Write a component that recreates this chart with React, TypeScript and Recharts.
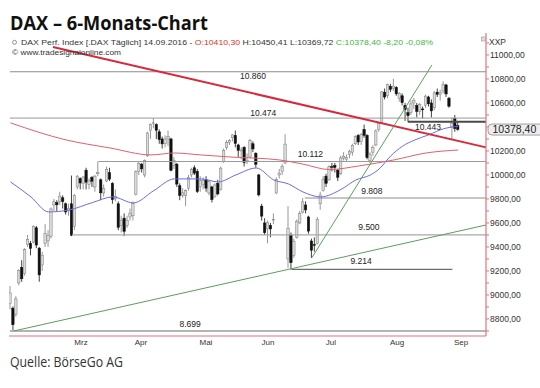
import React from 'react';
import { ComposedChart, Bar, Line, XAxis, YAxis, ReferenceLine, ReferenceDot } from 'recharts';

// daily candles, 10.02.2016 - 14.09.2016: [open, high, low, close]
const ohlc: [number, number, number, number][] = [
  // Feb
  [8930, 9075, 8880, 9017], [8890, 8905, 8699, 8752], [8840, 8990, 8820, 8967], [9100, 9215, 9080, 9206],
  [9230, 9290, 9110, 9135], [9180, 9390, 9160, 9378], [9420, 9500, 9400, 9463], [9430, 9450, 9330, 9388],
  [9440, 9580, 9430, 9573], [9560, 9575, 9390, 9416], [9390, 9400, 9110, 9167], [9250, 9360, 9200, 9331],
  [9430, 9590, 9400, 9513], [9450, 9540, 9400, 9495],
  // Mrz
  [9490, 9730, 9470, 9717], [9750, 9800, 9700, 9776], [9770, 9790, 9700, 9751], [9780, 9860, 9750, 9824],
  [9810, 9830, 9720, 9778], [9760, 9770, 9670, 9692], [9700, 9760, 9660, 9723], [9760, 9995, 9490, 9498],
  [9570, 9840, 9540, 9831], [9900, 10000, 9880, 9990], [9970, 9980, 9880, 9933], [9930, 9990, 9880, 9983],
  [10040, 10060, 9880, 9940], [9920, 9970, 9880, 9950], [9980, 9990, 9900, 9948], [9900, 10000, 9860, 9990],
  [10010, 10112, 9990, 10022], [9960, 9970, 9790, 9851], [9850, 9920, 9820, 9887], [9950, 10070, 9940, 10046],
  [10020, 10060, 9950, 9965],
  // Apr
  [9930, 9940, 9760, 9794], [9800, 9880, 9780, 9822], [9760, 9780, 9540, 9564], [9580, 9660, 9520, 9624],
  [9640, 9680, 9490, 9530], [9580, 9660, 9560, 9622], [9650, 9720, 9620, 9682], [9660, 9780, 9620, 9761],
  [9840, 10040, 9830, 10026], [10030, 10110, 10000, 10094], [10090, 10100, 10020, 10051], [10000, 10130, 9980, 10120],
  [10160, 10360, 10150, 10350], [10370, 10430, 10300, 10421], [10430, 10474, 10390, 10435], [10420, 10430, 10300, 10373],
  [10360, 10380, 10260, 10294], [10300, 10320, 10220, 10259], [10260, 10330, 10230, 10300], [10300, 10370, 10240, 10321],
  [10300, 10310, 10030, 10039],
  // Mai
  [10080, 10150, 10050, 10123], [10090, 10100, 9900, 9924], [9910, 9930, 9790, 9829], [9830, 9890, 9810, 9851],
  [9830, 9880, 9740, 9870], [9890, 10000, 9870, 9980], [10000, 10060, 9980, 10045], [10060, 10080, 10000, 10015],
  [10030, 10050, 9850, 9862], [9900, 9990, 9860, 9952], [9920, 9980, 9880, 9953], [9960, 9990, 9860, 9890],
  [9850, 9960, 9830, 9943], [9900, 9910, 9770, 9795], [9820, 9930, 9810, 9916], [9930, 9960, 9830, 9842],
  [9880, 10070, 9870, 10057], [10110, 10220, 10100, 10205], [10230, 10290, 10210, 10272], [10270, 10300, 10250, 10287],
  [10310, 10340, 10280, 10334], [10330, 10370, 10230, 10263],
  // Jun
  [10250, 10260, 10150, 10205], [10200, 10230, 10130, 10208], [10230, 10240, 10070, 10103], [10110, 10180, 10090, 10121],
  [10150, 10300, 10140, 10288], [10260, 10280, 10190, 10217], [10180, 10190, 10060, 10089], [10000, 10010, 9820, 9834],
  [9740, 9760, 9620, 9657], [9600, 9640, 9500, 9519], [9550, 9620, 9430, 9606], [9580, 9600, 9480, 9550],
  [9630, 9680, 9590, 9631], [9850, 9980, 9840, 9962], [10000, 10050, 9970, 10015], [10030, 10090, 10000, 10071],
  [10100, 10340, 10090, 10257], [9300, 9740, 9226, 9557], [9500, 9520, 9214, 9269], [9330, 9470, 9310, 9448],
  [9480, 9630, 9470, 9612], [9600, 9700, 9590, 9680],
  // Jul
  [9690, 9808, 9680, 9776], [9750, 9780, 9680, 9709], [9650, 9660, 9510, 9532], [9450, 9470, 9308, 9373],
  [9420, 9480, 9360, 9418], [9430, 9650, 9420, 9629], [9760, 9860, 9710, 9833], [9870, 9990, 9860, 9964],
  [9990, 10010, 9900, 9930], [9960, 10080, 9950, 10068], [10070, 10100, 10030, 10066], [10080, 10100, 10020, 10063],
  [10040, 10050, 9950, 9981], [10010, 10160, 10000, 10142], [10140, 10190, 10120, 10156], [10130, 10170, 10110, 10147],
  [10170, 10210, 10140, 10198], [10190, 10260, 10160, 10247], [10260, 10330, 10250, 10319], [10330, 10340, 10250, 10275],
  [10280, 10350, 10250, 10337],
  // Aug
  [10380, 10420, 10310, 10330], [10330, 10340, 10130, 10144], [10120, 10190, 10100, 10170], [10190, 10250, 10160, 10228],
  [10250, 10380, 10240, 10367], [10380, 10440, 10360, 10432], [10440, 10700, 10430, 10692], [10690, 10720, 10630, 10650],
  [10660, 10760, 10640, 10753], [10740, 10760, 10690, 10713], [10720, 10802, 10700, 10740], [10730, 10740, 10660, 10676],
  [10640, 10690, 10610, 10679], [10660, 10680, 10580, 10603], [10580, 10600, 10450, 10544], [10520, 10560, 10443, 10494],
  [10520, 10620, 10500, 10592], [10600, 10640, 10550, 10623], [10580, 10600, 10480, 10529], [10530, 10600, 10500, 10587],
  [10550, 10570, 10470, 10544], [10580, 10670, 10560, 10657], [10650, 10660, 10570, 10593],
  // Sep
  [10600, 10630, 10480, 10534], [10560, 10700, 10540, 10684], [10690, 10720, 10650, 10672], [10670, 10710, 10620, 10688],
  [10700, 10780, 10680, 10752], [10750, 10760, 10650, 10675], [10640, 10650, 10560, 10573], [10400, 10480, 10290, 10432],
  [10470, 10500, 10360, 10386], [10410.3, 10450.41, 10369.72, 10378.4],
];

// moving averages: [day index, value]
const blueMa: [number, number][] = [
  [0, 9942], [7, 9817], [13, 9692], [20, 9708], [28, 9770], [35, 9817], [42, 9767], [49, 9870],
  [56, 9967], [65, 9967], [71, 9942], [77, 10000], [84, 10058], [90, 9958], [95, 9925], [100, 9858],
  [106, 9817], [113, 9880], [118, 9958], [123, 10000], [126, 10050], [130, 10160], [134, 10240],
  [138, 10290], [143, 10335], [148, 10385], [153, 10405],
];
const redMa: [number, number][] = [
  [0, 10434], [19, 10292], [34, 10225], [48, 10167], [56, 10183], [65, 10167], [75, 10150],
  [92, 10125], [100, 10090], [109, 10045], [119, 10075], [131, 10125], [142, 10183], [153, 10208],
];

// horizontal levels: value, first day, label, label day, label side, label gap
const levels = [
  { v: 10860, from: -0.2, label: '10.860', at: 82.9, side: 'bottom', gap: 1, color: '#8c8c8c', w: 1 },
  { v: 10474, from: -0.2, label: '10.474', at: 86.4, side: 'top', gap: 2, color: '#9a9a9a', w: 1 },
  { v: 10443, from: 135.8, label: '10.443', at: 142.7, side: 'bottom', gap: 2, color: '#4a4a4a', w: 2 },
  { v: 10112, from: 30, label: '10.112', at: 102.5, side: 'top', gap: 5, color: '#9a9a9a', w: 1 },
  { v: 9808, from: 100.6, label: '9.808', at: 123.5, side: 'top', gap: 4, color: '#8c8c8c', w: 1 },
  { v: 9500, from: 21, label: '9.500', at: 122.5, side: 'top', gap: 5, color: '#a8a8a8', w: 1.2 },
  { v: 9214, from: 96, to: 151, label: '9.214', at: 119.8, side: 'top', gap: 5, color: '#6e6e6e', w: 1.2 },
  { v: 8699, from: -0.2, label: '8.699', at: 61.4, side: 'top', gap: 4, color: '#b4b4b4', w: 2 },
];

// trend lines: [[day, value], [day, value]]
const trendLines = [
  { pts: [[14.5, 11066], [162.5, 10230]], color: '#d8283c', w: 2 },
  { pts: [[1, 8699], [162.5, 9583]], color: '#5c9e5c', w: 1 },
  { pts: [[103, 9310], [144, 10916]], color: '#5c9e5c', w: 1 },
];

const monthStarts = [14, 35, 56, 78, 100, 121, 144];
const monthLabelDays = [24.1, 44.6, 66.8, 88, 109.5, 132.1, 154];
const monthLabels = ['Mrz', 'Apr', 'Mai', 'Jun', 'Jul', 'Aug', 'Sep'];
const yTicks = [8700, 8800, 8900, 9000, 9100, 9200, 9300, 9400, 9500, 9600, 9700, 9800, 9900,
  10000, 10100, 10200, 10300, 10400, 10500, 10600, 10700, 10800, 10900, 11000, 11100];

const RED = '#e5717f';
const FONT = '"Liberation Sans", Arial, sans-serif';
const X_DOMAIN = [-0.5, 162.5];
const Y_DOMAIN = [8658, 11183];

const blueMap = new Map(blueMa);
const redMap = new Map(redMa);
const rows = ohlc.map(([o, h, l, c], i) => ({
  i, o, h, l, c, range: [l, h],
  ma1: blueMap.has(i) ? blueMap.get(i) : null,
  ma2: redMap.has(i) ? redMap.get(i) : null,
}));
const last = ohlc[ohlc.length - 1][3];

const fmt = (v: number) => v.toFixed(2).replace('.', ',');
// the last-price box hides the axis label right under it
const yLabel = (v: number) => (v % 200 === 0 && Math.abs(v - last) > 60 ? fmt(v) : '');

const Candle = (props: any) => {
  const { x, y, width, height, payload } = props;
  if (x == null || payload == null) return null;
  const top = Math.min(y, y + height);
  const bot = Math.max(y, y + height);
  const span = payload.h - payload.l || 1;
  const py = (v: number) => top + ((payload.h - v) / span) * (bot - top);
  const cx = x + width / 2;
  const up = payload.c >= payload.o;
  const bt = py(Math.max(payload.o, payload.c));
  const bb = py(Math.min(payload.o, payload.c));
  const col = up ? '#7c7c7c' : '#111';
  const bw = 2.4;
  return (
    <g>
      <line x1={cx} x2={cx} y1={top} y2={bot} stroke={col} strokeWidth={0.8} />
      <rect x={cx - bw / 2} y={bt} width={bw} height={Math.max(bb - bt, 0.8)}
        fill={up ? '#dadada' : '#111'} stroke={col} strokeWidth={0.5} />
    </g>
  );
};

const LastBox = (p: any) => {
  const vb = p.viewBox;
  if (!vb) return null;
  const cy = vb.y + vb.height / 2;
  return (
    <g>
      <rect x={488} y={cy - 5.5} width={70} height={11} rx={4} fill="#eeeeee" stroke="#8a8a8a" strokeWidth={0.8} />
      <text x={492.5} y={cy + 3.6} fontSize={10.5} fontFamily={FONT} fill="#222">{fmt(last)}</text>
    </g>
  );
};

export default function App() {
  return (
    <div style={{ position: 'absolute', left: 0, top: 0, width: 540, height: 388, background: '#fff', overflow: 'hidden' }}>
      <div style={{ position: 'absolute', left: 0, top: 0 }}>
        <ComposedChart width={540} height={388} data={rows} margin={{ top: 33, right: 0, left: 9, bottom: 36 }}>
          <XAxis dataKey="i" type="number" domain={X_DOMAIN} allowDataOverflow ticks={monthStarts}
            tick={false} tickLine={{ stroke: '#999' }} tickSize={3} axisLine={{ stroke: RED, strokeWidth: 1.2 }} height={2} />
          <XAxis xAxisId="lbl" dataKey="i" type="number" domain={X_DOMAIN} allowDataOverflow ticks={monthLabelDays}
            interval={0} tickFormatter={(v: number) => monthLabels[monthLabelDays.indexOf(v)] ?? ''}
            axisLine={false} tickLine={false} tickSize={0} tickMargin={1} height={14}
            tick={{ fontSize: 8, fill: '#333', fontFamily: FONT }} />
          <YAxis orientation="right" type="number" domain={Y_DOMAIN} allowDataOverflow ticks={yTicks} interval={0}
            tickFormatter={yLabel} width={54}
            axisLine={{ stroke: RED, strokeWidth: 1.2 }} tickLine={{ stroke: RED }} tickSize={3} tickMargin={1}
            tick={{ fontSize: 8.5, fill: '#333', fontFamily: FONT }} />

          {levels.map((lv) => (
            <ReferenceLine key={lv.label} segment={[{ x: lv.from, y: lv.v }, { x: lv.to ?? X_DOMAIN[1], y: lv.v }]}
              stroke={lv.color} strokeWidth={lv.w} ifOverflow="visible" />
          ))}
          {levels.map((lv) => (
            <ReferenceDot key={'l' + lv.label} x={lv.at} y={lv.v} r={0} fill="none" stroke="none" ifOverflow="visible"
              label={{ value: lv.label, position: lv.side as any, offset: lv.gap, fontSize: 8.5, fill: '#222', fontFamily: FONT }} />
          ))}

          <Line dataKey="ma2" type="monotone" stroke="#e0606e" strokeWidth={1} dot={false} connectNulls isAnimationActive={false} />
          <Line dataKey="ma1" type="monotone" stroke="#6b6be6" strokeWidth={1} dot={false} connectNulls isAnimationActive={false} />
          <Bar dataKey="range" barSize={2} shape={<Candle />} isAnimationActive={false} />

          {trendLines.map((t, k) => (
            <ReferenceLine key={'t' + k} segment={[{ x: t.pts[0][0], y: t.pts[0][1] }, { x: t.pts[1][0], y: t.pts[1][1] }]}
              stroke={t.color} strokeWidth={t.w} ifOverflow="visible" />
          ))}
          <ReferenceDot x={X_DOMAIN[1]} y={last} r={0} fill="none" stroke="none" ifOverflow="visible" label={<LastBox />} />
        </ComposedChart>
      </div>
      <svg width={540} height={388} style={{ position: 'absolute', left: 0, top: 0, pointerEvents: 'none' }}>
        <text x={10} y={30} fontFamily='"Open Sans", "Noto Sans", sans-serif' fontWeight={700} fontSize={20}
          textLength={198} lengthAdjust="spacingAndGlyphs" fill="#111">DAX – 6-Monats-Chart</text>
        <circle cx={14.5} cy={42.3} r={2} fill="none" stroke="#777" strokeWidth={0.8} />
        <text x={21} y={45} fontFamily={FONT} fontSize={8} textLength={412} lengthAdjust="spacingAndGlyphs" fill="#333">
          DAX Perf. Index [.DAX  Täglich] 14.09.2016 - <tspan fill="#e0302a">O:10410,30</tspan> H:10450,41 L:10369,72{' '}
          <tspan fill="#3cb83c">C:10378,40 -8,20 -0,08%</tspan>
        </text>
        <text x={12} y={55} fontFamily={FONT} fontSize={8} textLength={109} lengthAdjust="spacingAndGlyphs" fill="#333">
          © www.tradesignalonline.com
        </text>
        <rect x={481.5} y={37} width={4} height={4} fill="#ddd" stroke="#888" strokeWidth={0.5} />
        <text x={489} y={45} fontFamily={FONT} fontSize={8.5} textLength={17} lengthAdjust="spacingAndGlyphs" fill="#333">XXP</text>
        <text x={10} y={366.5} fontFamily='"Open Sans", "Noto Sans", sans-serif' fontWeight={400} fontSize={15}
          textLength={113} lengthAdjust="spacingAndGlyphs" fill="#333">Quelle: BörseGo AG</text>
      </svg>
    </div>
  );
}
